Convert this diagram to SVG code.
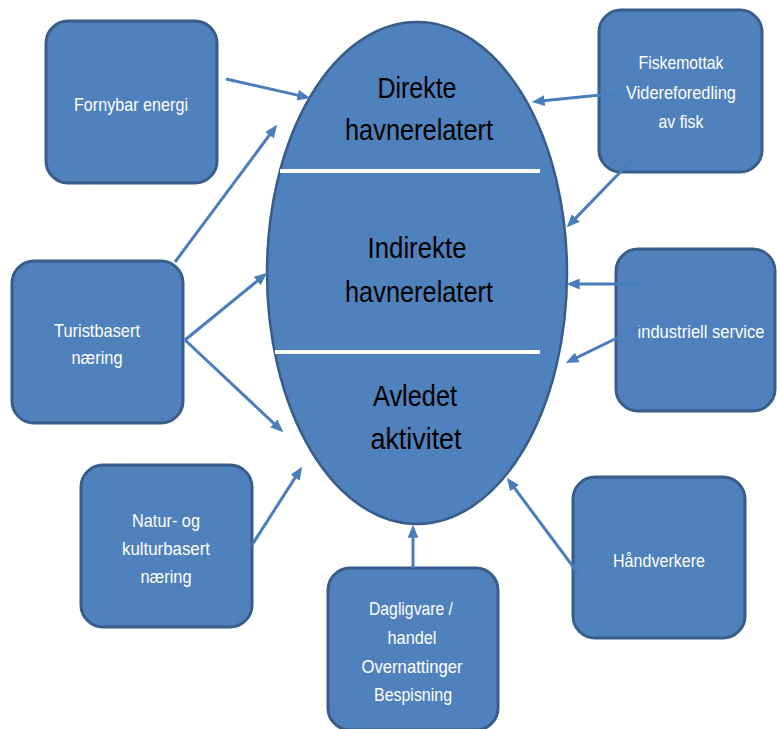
<svg xmlns="http://www.w3.org/2000/svg" width="777" height="729" viewBox="0 0 777 729">
<style>
.box{fill:#4F81BD;stroke:#385D8A;stroke-width:3}
.bt{font-family:"Liberation Sans",Arial,sans-serif;font-size:19px;fill:#FFFFFF;text-anchor:middle}
.et{font-family:"Liberation Sans",Arial,sans-serif;font-size:30px;fill:#000000;text-anchor:middle}
.con{stroke:#4A7EBB;stroke-width:3;fill:none;marker-end:url(#ah)}
</style>
<defs>
<marker id="ah" markerUnits="userSpaceOnUse" markerWidth="13" markerHeight="11" refX="8" refY="5" orient="auto" viewBox="0 0 12 10">
<path d="M0,0 L12,5 L0,10 z" fill="#4A7EBB"/>
</marker>
</defs>
<rect width="777" height="729" fill="#FFFFFF"/>
<g id="center">
<ellipse cx="417" cy="273" rx="150" ry="251" fill="#4F81BD" stroke="#385D8A" stroke-width="2.5"/>
<line x1="280" y1="171" x2="540" y2="171" stroke="#FFFFFF" stroke-width="4"/>
<line x1="275" y1="352" x2="540" y2="352" stroke="#FFFFFF" stroke-width="4"/>
<text class="et" x="417" y="98" textLength="79" lengthAdjust="spacingAndGlyphs">Direkte</text>
<text class="et" x="419" y="140" textLength="148" lengthAdjust="spacingAndGlyphs">havnerelatert</text>
<text class="et" x="417" y="258" textLength="99" lengthAdjust="spacingAndGlyphs">Indirekte</text>
<text class="et" x="419" y="302" textLength="148" lengthAdjust="spacingAndGlyphs">havnerelatert</text>
<text class="et" x="415" y="406" textLength="84" lengthAdjust="spacingAndGlyphs">Avledet</text>
<text class="et" x="416" y="449" textLength="91" lengthAdjust="spacingAndGlyphs">aktivitet</text>
</g>
<g id="fornybar">
<rect class="box" x="46" y="21" width="171" height="162" rx="22"/>
<text class="bt" x="131" y="111" textLength="114" lengthAdjust="spacingAndGlyphs">Fornybar energi</text>
</g>
<g id="fiskemottak">
<rect class="box" x="599" y="10" width="163" height="162" rx="22"/>
<text class="bt" x="681" y="69" textLength="85" lengthAdjust="spacingAndGlyphs">Fiskemottak</text>
<text class="bt" x="681" y="99" textLength="110" lengthAdjust="spacingAndGlyphs">Videreforedling</text>
<text class="bt" x="681" y="128" textLength="45" lengthAdjust="spacingAndGlyphs">av fisk</text>
</g>
<g id="industriell">
<rect class="box" x="616" y="249" width="159" height="162" rx="22"/>
<text class="bt" x="701" y="338" textLength="127" lengthAdjust="spacingAndGlyphs">industriell service</text>
</g>
<g id="turistbasert">
<rect class="box" x="12" y="261" width="171" height="162" rx="22"/>
<text class="bt" x="97" y="337" textLength="86" lengthAdjust="spacingAndGlyphs">Turistbasert</text>
<text class="bt" x="97" y="364" textLength="51" lengthAdjust="spacingAndGlyphs">næring</text>
</g>
<g id="natur">
<rect class="box" x="81" y="465" width="171" height="162" rx="22"/>
<text class="bt" x="166" y="527" textLength="68" lengthAdjust="spacingAndGlyphs">Natur- og</text>
<text class="bt" x="166" y="555" textLength="88" lengthAdjust="spacingAndGlyphs">kulturbasert</text>
<text class="bt" x="166" y="583" textLength="51" lengthAdjust="spacingAndGlyphs">næring</text>
</g>
<g id="dagligvare">
<rect class="box" x="328" y="568" width="170" height="162" rx="22"/>
<text class="bt" x="411" y="615" textLength="84" lengthAdjust="spacingAndGlyphs">Dagligvare /</text>
<text class="bt" x="412" y="644" textLength="49" lengthAdjust="spacingAndGlyphs">handel</text>
<text class="bt" x="412" y="673" textLength="101" lengthAdjust="spacingAndGlyphs">Overnattinger</text>
<text class="bt" x="413" y="701" textLength="78" lengthAdjust="spacingAndGlyphs">Bespisning</text>
</g>
<g id="handverkere">
<rect class="box" x="573" y="477" width="172" height="161" rx="22"/>
<text class="bt" x="659" y="567" textLength="92" lengthAdjust="spacingAndGlyphs">Håndverkere</text>
</g>
<g id="connectors">
<line class="con" x1="226" y1="79" x2="306.1" y2="97.1"/>
<line class="con" x1="175" y1="262" x2="274.6" y2="128.2"/>
<line class="con" x1="185" y1="340" x2="263.9" y2="275.5"/>
<line class="con" x1="185" y1="340" x2="280.1" y2="429.3"/>
<line class="con" x1="252" y1="545" x2="299.8" y2="470.4"/>
<line class="con" x1="413" y1="568" x2="413" y2="529"/>
<line class="con" x1="583" y1="580" x2="509.4" y2="481.2"/>
<line class="con" x1="642" y1="284" x2="571" y2="284"/>
<line class="con" x1="658" y1="318" x2="569.6" y2="361.2"/>
<line class="con" x1="633" y1="159" x2="569.8" y2="224.1"/>
<line class="con" x1="620" y1="93" x2="536" y2="101.6"/>
</g>
</svg>
